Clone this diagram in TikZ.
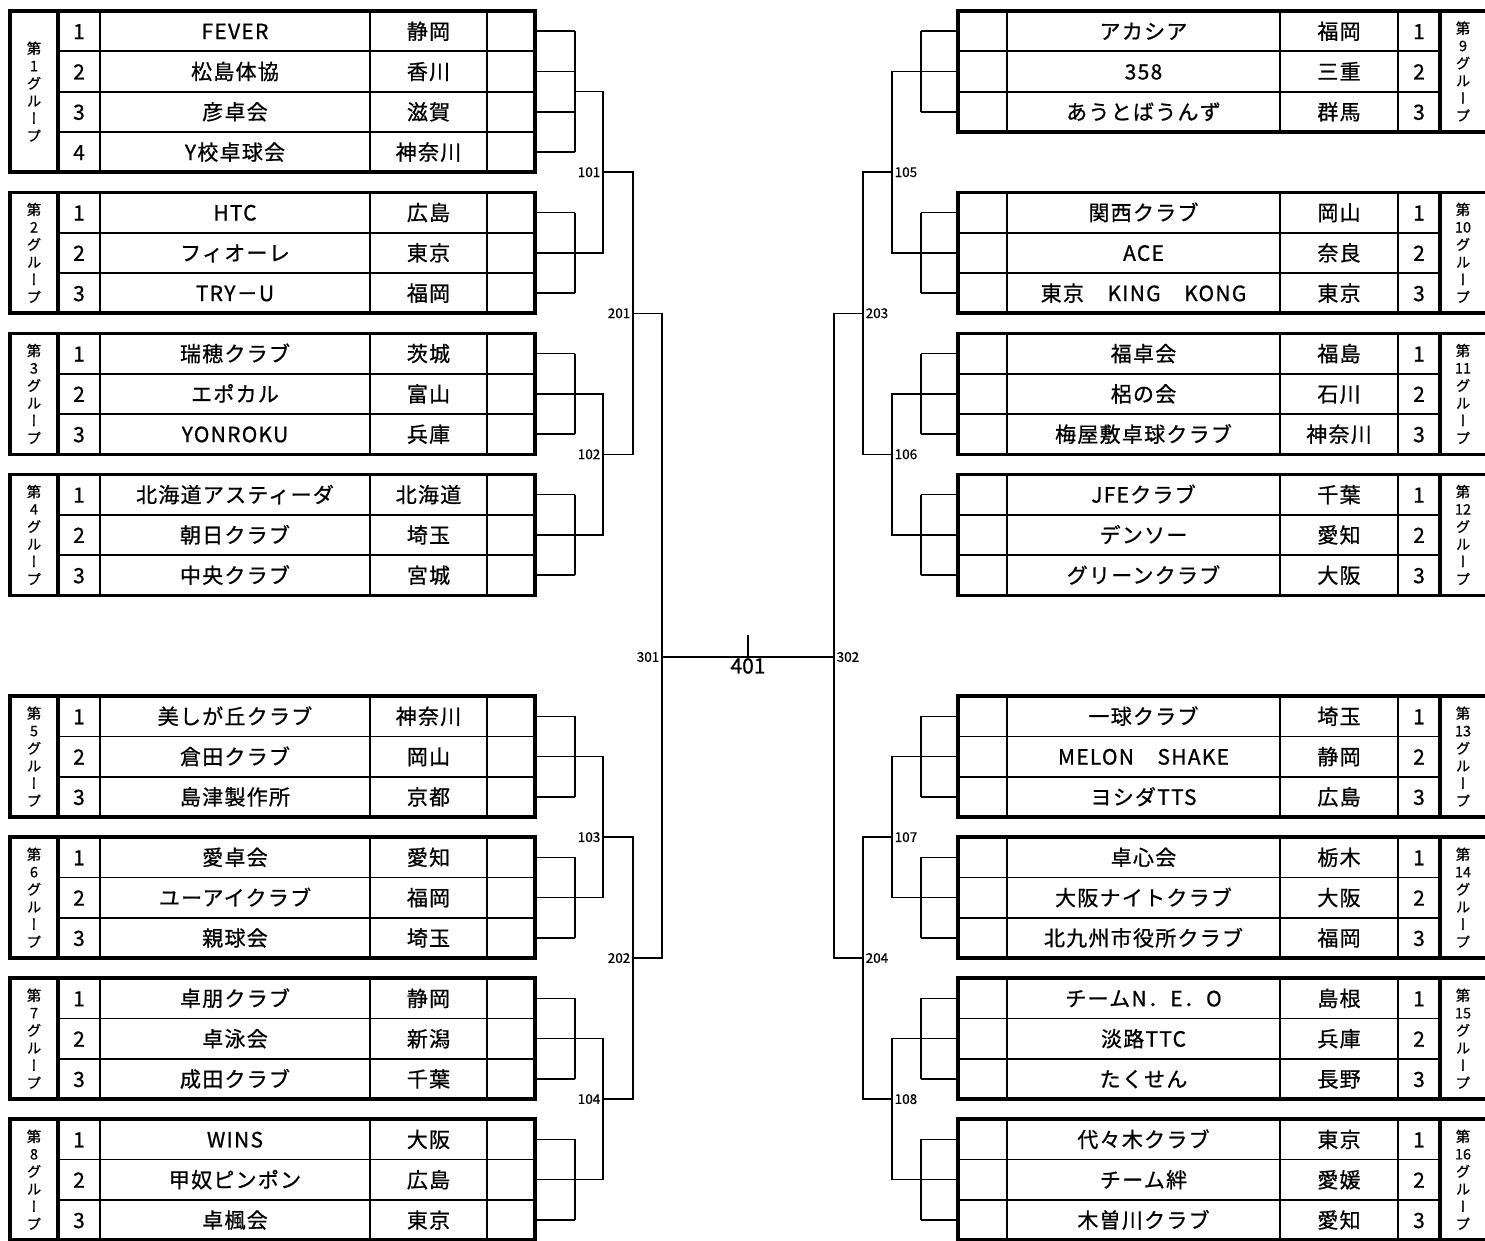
\documentclass[tikz,border=0pt]{standalone}
\usepackage{fontspec}
\setmainfont{Noto Sans CJK JP}[FakeBold=0.6]
\newfontfamily\jpf[LetterSpace=6,FakeBold=0.8]{Noto Sans CJK JP}
\newfontfamily\vjpf[RawFeature=+vert,FakeBold=0.6]{Noto Sans CJK JP}
\newcommand\rh{40.3}
\tikzset{
  outer/.style={line width=3.6pt},
  inner/.style={line width=1.8pt},
  br/.style={line width=1.5pt},
  cell/.style={inner sep=0pt, text height=16pt, text depth=0pt, font=\jpf\fontsize{21}{21}\selectfont},
  glab/.style={inner sep=0pt, align=center, font=\vjpf\fontsize{14.5}{17.5}\selectfont},
  mlab/.style={inner sep=2.5pt, font=\fontsize{13.5}{14}\selectfont},
  flab/.style={inner sep=1pt, font=\fontsize{21}{21}\selectfont},
}
% left group row: id, top, k, name, pref
\newcommand\LRow[5]{%
  \pgfmathsetmacro\yy{#2+(#3-0.5)*\rh}%
  \pgfmathsetmacro\yt{#2+(#3-1)*\rh}%
  \ifnum#3>1 \draw[inner] (58,\yt) -- (535,\yt);\fi
  \node[cell] (#1-n#3) at (79,\yy) {#3};
  \node[cell] (#1-t#3) at (235,\yy) {#4};
  \node[cell] (#1-p#3) at (428.5,\yy) {#5};
  \coordinate (#1-e#3) at (535,\yy);
}
% left frame: id, top, n, number
\newcommand\LFrame[4]{%
  \pgfmathsetmacro\yb{#2+#3*\rh}%
  \foreach \xx in {100,370,487}{\draw[inner] (\xx,#2) -- (\xx,\yb);}
  \draw[outer] (58,#2) -- (58,\yb);
  \draw[outer] (10,#2) rectangle (535,\yb);
  \node[glab] (#1-lab) at (34,{(#2+\yb)/2}) {第\\#4\\グ\\ル\\ー\\プ};
}
\newcommand\LBr[2]{%
  \foreach \k in {1,...,#2}{\draw[br] (#1-e\k) -- (#1-e\k -| xl1);}
  \draw[br] (#1-e1 -| xl1) -- (#1-e#2 -| xl1);
}
% right group row
\newcommand\RRow[5]{%
  \pgfmathsetmacro\yy{#2+(#3-0.5)*\rh}%
  \pgfmathsetmacro\yt{#2+(#3-1)*\rh}%
  \ifnum#3>1 \draw[inner] (958,\yt) -- (1440,\yt);\fi
  \node[cell] (#1-t#3) at (1143.5,\yy) {#4};
  \node[cell] (#1-p#3) at (1339,\yy) {#5};
  \node[cell] (#1-n#3) at (1419,\yy) {#3};
  \coordinate (#1-e#3) at (958,\yy);
}
\newcommand\RFrame[4]{%
  \pgfmathsetmacro\yb{#2+#3*\rh}%
  \foreach \xx in {1007,1280,1398}{\draw[inner] (\xx,#2) -- (\xx,\yb);}
  \draw[outer] (1440,#2) -- (1440,\yb);
  \draw[outer] (958,#2) rectangle (1500,\yb);
  \node[glab] (#1-lab) at (1463,{(#2+\yb)/2}) {第\\#4\\グ\\ル\\ー\\プ};
}
\newcommand\RBr[2]{%
  \foreach \k in {1,...,#2}{\draw[br] (#1-e\k) -- (#1-e\k -| xr1);}
  \draw[br] (#1-e1 -| xr1) -- (#1-e#2 -| xr1);
}
\begin{document}
\begin{tikzpicture}[x=1pt,y=-1pt]
\useasboundingbox (0,0) rectangle (1485,1240);
\fill[white] (0,0) rectangle (1485,1240);
\clip (0,0) rectangle (1485,1240);
\coordinate (xl1) at (575,0);
\coordinate (xr1) at (921,0);

% ---------- left groups ----------
\LRow{L1}{11}{1}{FEVER}{静岡}
\LRow{L1}{11}{2}{松島体協}{香川}
\LRow{L1}{11}{3}{彦卓会}{滋賀}
\LRow{L1}{11}{4}{Y校卓球会}{神奈川}
\LFrame{L1}{11}{4}{1}
\LBr{L1}{4}
\coordinate (L1-o) at (575,91.6);

\LRow{L2}{192.35}{1}{HTC}{広島}
\LRow{L2}{192.35}{2}{フィオーレ}{東京}
\LRow{L2}{192.35}{3}{TRY－U}{福岡}
\LFrame{L2}{192.35}{3}{2}
\LBr{L2}{3}
\coordinate (L2-o) at (L2-e2 -| xl1);

\LRow{L3}{333.4}{1}{瑞穂クラブ}{茨城}
\LRow{L3}{333.4}{2}{エポカル}{富山}
\LRow{L3}{333.4}{3}{YONROKU}{兵庫}
\LFrame{L3}{333.4}{3}{3}
\LBr{L3}{3}
\coordinate (L3-o) at (L3-e2 -| xl1);

\LRow{L4}{474.45}{1}{北海道アスティーダ}{北海道}
\LRow{L4}{474.45}{2}{朝日クラブ}{埼玉}
\LRow{L4}{474.45}{3}{中央クラブ}{宮城}
\LFrame{L4}{474.45}{3}{4}
\LBr{L4}{3}
\coordinate (L4-o) at (L4-e2 -| xl1);

\LRow{L5}{696.1}{1}{美しが丘クラブ}{神奈川}
\LRow{L5}{696.1}{2}{倉田クラブ}{岡山}
\LRow{L5}{696.1}{3}{島津製作所}{京都}
\LFrame{L5}{696.1}{3}{5}
\LBr{L5}{3}
\coordinate (L5-o) at (L5-e2 -| xl1);

\LRow{L6}{837.15}{1}{愛卓会}{愛知}
\LRow{L6}{837.15}{2}{ユーアイクラブ}{福岡}
\LRow{L6}{837.15}{3}{親球会}{埼玉}
\LFrame{L6}{837.15}{3}{6}
\LBr{L6}{3}
\coordinate (L6-o) at (L6-e2 -| xl1);

\LRow{L7}{978.2}{1}{卓朋クラブ}{静岡}
\LRow{L7}{978.2}{2}{卓泳会}{新潟}
\LRow{L7}{978.2}{3}{成田クラブ}{千葉}
\LFrame{L7}{978.2}{3}{7}
\LBr{L7}{3}
\coordinate (L7-o) at (L7-e2 -| xl1);

\LRow{L8}{1119.25}{1}{WINS}{大阪}
\LRow{L8}{1119.25}{2}{甲奴ピンポン}{広島}
\LRow{L8}{1119.25}{3}{卓楓会}{東京}
\LFrame{L8}{1119.25}{3}{8}
\LBr{L8}{3}
\coordinate (L8-o) at (L8-e2 -| xl1);

% ---------- right groups ----------
\RRow{R9}{11}{1}{アカシア}{福岡}
\RRow{R9}{11}{2}{358}{三重}
\RRow{R9}{11}{3}{あうとばうんず}{群馬}
\RFrame{R9}{11}{3}{9}
\RBr{R9}{3}
\coordinate (R9-o) at (R9-e2 -| xr1);

\RRow{R10}{192.35}{1}{関西クラブ}{岡山}
\RRow{R10}{192.35}{2}{ACE}{奈良}
\RRow{R10}{192.35}{3}{東京　KING　KONG}{東京}
\RFrame{R10}{192.35}{3}{10}
\RBr{R10}{3}
\coordinate (R10-o) at (R10-e2 -| xr1);

\RRow{R11}{333.4}{1}{福卓会}{福島}
\RRow{R11}{333.4}{2}{梠の会}{石川}
\RRow{R11}{333.4}{3}{梅屋敷卓球クラブ}{神奈川}
\RFrame{R11}{333.4}{3}{11}
\RBr{R11}{3}
\coordinate (R11-o) at (R11-e2 -| xr1);

\RRow{R12}{474.45}{1}{JFEクラブ}{千葉}
\RRow{R12}{474.45}{2}{デンソー}{愛知}
\RRow{R12}{474.45}{3}{グリーンクラブ}{大阪}
\RFrame{R12}{474.45}{3}{12}
\RBr{R12}{3}
\coordinate (R12-o) at (R12-e2 -| xr1);

\RRow{R13}{696.1}{1}{一球クラブ}{埼玉}
\RRow{R13}{696.1}{2}{MELON　SHAKE}{静岡}
\RRow{R13}{696.1}{3}{ヨシダTTS}{広島}
\RFrame{R13}{696.1}{3}{13}
\RBr{R13}{3}
\coordinate (R13-o) at (R13-e2 -| xr1);

\RRow{R14}{837.15}{1}{卓心会}{栃木}
\RRow{R14}{837.15}{2}{大阪ナイトクラブ}{大阪}
\RRow{R14}{837.15}{3}{北九州市役所クラブ}{福岡}
\RFrame{R14}{837.15}{3}{14}
\RBr{R14}{3}
\coordinate (R14-o) at (R14-e2 -| xr1);

\RRow{R15}{978.2}{1}{チームN．E．O}{島根}
\RRow{R15}{978.2}{2}{淡路TTC}{兵庫}
\RRow{R15}{978.2}{3}{たくせん}{長野}
\RFrame{R15}{978.2}{3}{15}
\RBr{R15}{3}
\coordinate (R15-o) at (R15-e2 -| xr1);

\RRow{R16}{1119.25}{1}{代々木クラブ}{東京}
\RRow{R16}{1119.25}{2}{チーム絆}{愛媛}
\RRow{R16}{1119.25}{3}{木曽川クラブ}{愛知}
\RFrame{R16}{1119.25}{3}{16}
\RBr{R16}{3}
\coordinate (R16-o) at (R16-e2 -| xr1);

% ---------- match points ----------
\coordinate (m101) at (603,172.2);
\coordinate (m102) at (603,454.3);
\coordinate (m103) at (603,837.15);
\coordinate (m104) at (603,1099.1);
\coordinate (m201) at (633,313.25);
\coordinate (m202) at (633,958.05);
\coordinate (m301) at (662,657);
\coordinate (m105) at (892,172.2);
\coordinate (m106) at (892,454.3);
\coordinate (m107) at (892,837.15);
\coordinate (m108) at (892,1099.1);
\coordinate (m203) at (863,313.25);
\coordinate (m204) at (863,958.05);
\coordinate (m302) at (834,657);
\coordinate (c401) at (748,657);
\coordinate (t401) at (748,635);

% left brackets
\draw[br] (L1-o) -- (L1-o -| m101) -- (L2-o -| m101) -- (L2-o);
\draw[br] (L3-o) -- (L3-o -| m102) -- (L4-o -| m102) -- (L4-o);
\draw[br] (L5-o) -- (L5-o -| m103) -- (L6-o -| m103) -- (L6-o);
\draw[br] (L7-o) -- (L7-o -| m104) -- (L8-o -| m104) -- (L8-o);
\draw[br] (m101) -- (m101 -| m201) -- (m102 -| m201) -- (m102);
\draw[br] (m103) -- (m103 -| m202) -- (m104 -| m202) -- (m104);
\draw[br] (m201) -- (m201 -| m301) -- (m202 -| m301) -- (m202);
% right brackets
\draw[br] (R9-o) -- (R9-o -| m105) -- (R10-o -| m105) -- (R10-o);
\draw[br] (R11-o) -- (R11-o -| m106) -- (R12-o -| m106) -- (R12-o);
\draw[br] (R13-o) -- (R13-o -| m107) -- (R14-o -| m107) -- (R14-o);
\draw[br] (R15-o) -- (R15-o -| m108) -- (R16-o -| m108) -- (R16-o);
\draw[br] (m105) -- (m105 -| m203) -- (m106 -| m203) -- (m106);
\draw[br] (m107) -- (m107 -| m204) -- (m108 -| m204) -- (m108);
\draw[br] (m203) -- (m203 -| m302) -- (m204 -| m302) -- (m204);
% final
\draw[br] (m301) -- (m302);
\draw[br] (c401) -- (t401);

% match labels
\node[mlab, anchor=east] (l101) at (m101) {101};
\node[mlab, anchor=east] (l102) at (m102) {102};
\node[mlab, anchor=east] (l103) at (m103) {103};
\node[mlab, anchor=east] (l104) at (m104) {104};
\node[mlab, anchor=east] (l201) at (m201) {201};
\node[mlab, anchor=east] (l202) at (m202) {202};
\node[mlab, anchor=east] (l301) at (m301) {301};
\node[mlab, anchor=west] (l105) at (m105) {105};
\node[mlab, anchor=west] (l106) at (m106) {106};
\node[mlab, anchor=west] (l107) at (m107) {107};
\node[mlab, anchor=west] (l108) at (m108) {108};
\node[mlab, anchor=west] (l203) at (m203) {203};
\node[mlab, anchor=west] (l204) at (m204) {204};
\node[mlab, anchor=west] (l302) at (m302) {302};
\node[flab, anchor=north] (l401) at (c401) {401};
\end{tikzpicture}
\end{document}
